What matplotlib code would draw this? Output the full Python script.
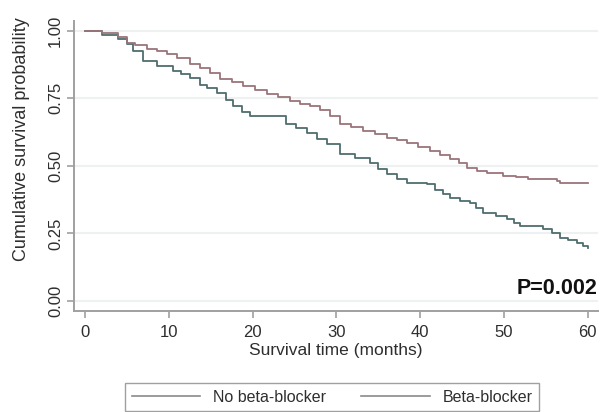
import matplotlib
matplotlib.use("Agg")
import matplotlib.pyplot as plt
from matplotlib.lines import Line2D

plt.rcParams['font.family'] = ['Liberation Sans', 'DejaVu Sans']

# Beta-blocker (reddish) Kaplan-Meier curve
bb_time = [0, 2, 4, 5, 6, 7.4, 8.6, 9.8, 11, 12.5, 13.7, 14.9, 16.1, 17.5, 18.9,
           20.3, 21.7, 23, 24.5, 25.7, 26.8, 28.0, 29.2, 30.4, 31.8, 33.2, 34.6,
           36.0, 37.2, 38.4, 39.8, 41.2, 42.4, 43.6, 44.6, 45.6, 46.8, 48.0, 49.9,
           51.4, 52.9, 56.3, 56.7, 60.0]
bb_surv = [1.0, 0.99, 0.975, 0.955, 0.945, 0.933, 0.925, 0.915, 0.897, 0.878, 0.86,
           0.845, 0.822, 0.81, 0.796, 0.78, 0.767, 0.755, 0.741, 0.73, 0.72, 0.708,
           0.685, 0.656, 0.642, 0.63, 0.617, 0.604, 0.594, 0.585, 0.57, 0.556, 0.54,
           0.526, 0.51, 0.493, 0.482, 0.474, 0.463, 0.457, 0.452, 0.444, 0.437, 0.437]

# No beta-blocker (teal) Kaplan-Meier curve
nobb_time = [0, 2, 4, 5, 5.7, 6.9, 8.6, 10.5, 11.5, 12.5, 13.7, 14.6, 15.8, 16.8,
             17.7, 18.7, 19.7, 24.0, 25.2, 26.5, 27.7, 28.9, 30.4, 32.2, 34.0, 35.0,
             36.0, 37.2, 38.4, 40.8, 41.8, 42.7, 43.6, 44.7, 45.9, 46.7, 47.5, 49.0,
             50.4, 51.2, 51.9, 54.7, 55.7, 56.7, 57.7, 58.7, 59.4, 60.0]
nobb_surv = [1.0, 0.985, 0.97, 0.95, 0.926, 0.889, 0.87, 0.852, 0.84, 0.826, 0.80,
             0.789, 0.77, 0.745, 0.722, 0.70, 0.685, 0.656, 0.64, 0.622, 0.60, 0.581,
             0.544, 0.53, 0.511, 0.49, 0.47, 0.45, 0.437, 0.433, 0.41, 0.396, 0.381,
             0.37, 0.363, 0.345, 0.326, 0.315, 0.304, 0.29, 0.278, 0.267, 0.25, 0.233,
             0.225, 0.215, 0.205, 0.196]

x_ticks = [0, 10, 20, 30, 40, 50, 60]
y_ticks = [0.0, 0.25, 0.5, 0.75, 1.0]
y_ticklabels = ["0.00", "0.25", "0.50", "0.75", "1.00"]
series_labels = ["No beta-blocker", "Beta-blocker"]
p_text = "P=0.002"

c_nobb = "#4f6d6e"
c_bb = "#9a7479"
axis_gray = "#a0a0a0"
text_col = "#2e2e2e"

fig = plt.figure(figsize=(6.02, 4.12), dpi=100)
ax = fig.add_axes([0.123, 0.245, 0.870, 0.705])

for y in y_ticks:
    ax.axhline(y, color="#eef1f1", lw=1.5, zorder=0)

ax.plot(nobb_time, nobb_surv, drawstyle="steps-post", color=c_nobb, lw=1.3)
ax.plot(bb_time, bb_surv, drawstyle="steps-post", color=c_bb, lw=1.3)

ax.set_xlim(-1.3, 61.2)
ax.set_ylim(-0.037, 1.037)
ax.set_xticks(x_ticks)
ax.set_yticks(y_ticks)
ax.set_yticklabels(y_ticklabels, rotation=90, va="center")
ax.tick_params(axis="both", colors=axis_gray, labelcolor=text_col,
               labelsize=12, length=5, width=1.2)
ax.tick_params(axis="x", pad=5)
ax.tick_params(axis="y", pad=3)
for s in ["top", "right"]:
    ax.spines[s].set_visible(False)
for s in ["left", "bottom"]:
    ax.spines[s].set_color(axis_gray)
    ax.spines[s].set_linewidth(1.4)

ax.set_xlabel("Survival time (months)", fontsize=12.5, color=text_col, labelpad=2)
ax.set_ylabel("Cumulative survival probability", fontsize=13, color=text_col)
ax.yaxis.set_label_coords(-0.084, 0.593)

ax.text(61.2, 0.048, p_text, ha="right", va="center", fontsize=15.5,
        fontweight="bold", color="#111111")

handles = [Line2D([], [], color="#8a8a8a", lw=1.2),
           Line2D([], [], color="#8a8a8a", lw=1.2)]
leg = fig.legend(handles, series_labels, loc="center",
                 bbox_to_anchor=(0.552, 0.036), ncol=2, frameon=True,
                 fancybox=False, fontsize=11.5, handlelength=4.3,
                 columnspacing=2.2, borderpad=0.4, edgecolor="#888888")
leg.get_frame().set_linewidth(1.0)
for t in leg.get_texts():
    t.set_color(text_col)

fig.savefig("out.png", dpi=100, facecolor="white")
